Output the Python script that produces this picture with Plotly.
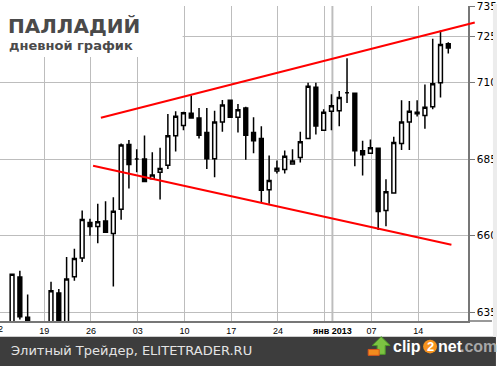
import plotly.graph_objects as go
import pandas as pd

# ---------------- data ----------------
dates = ["2012-11-14", "2012-11-15", "2012-11-16", "2012-11-20", "2012-11-21", "2012-11-22",
         "2012-11-23", "2012-11-24", "2012-11-26", "2012-11-27", "2012-11-28", "2012-11-29",
         "2012-11-30", "2012-12-01", "2012-12-03", "2012-12-04", "2012-12-05", "2012-12-06",
         "2012-12-07", "2012-12-08", "2012-12-10", "2012-12-11", "2012-12-12", "2012-12-13",
         "2012-12-14", "2012-12-15", "2012-12-17", "2012-12-18", "2012-12-19", "2012-12-20",
         "2012-12-21", "2012-12-22", "2012-12-24", "2012-12-25", "2012-12-26", "2012-12-27",
         "2012-12-28", "2012-12-29", "2012-12-31", "2013-01-01", "2013-01-02", "2013-01-03",
         "2013-01-04", "2013-01-05", "2013-01-07", "2013-01-08", "2013-01-09", "2013-01-10",
         "2013-01-11", "2013-01-12", "2013-01-14", "2013-01-15", "2013-01-16", "2013-01-17",
         "2013-01-18"]
open_ = [628.0, 646.5, 633.3, 629.0, 641.3, 630.0, 646.6, 652.7, 664.3, 663.0, 664.8, 660.7,
         668.6, 689.8, 685.0, 685.0, 678.6, 680.7, 683.0, 692.6, 696.0, 700.0, 698.4, 693.7,
         685.1, 697.1, 704.2, 698.7, 701.7, 693.7, 691.7, 675.0, 681.1, 681.6, 683.4, 685.5,
         691.7, 708.5, 694.4, 700.6, 700.8, 706.7, 706.5, 687.7, 686.9, 688.5, 668.2, 673.9,
         690.1, 697.1, 700.3, 699.2, 702.1, 709.9, 722.7]
high = [647.6, 648.5, 640.8, 644.9, 642.6, 653.0, 655.7, 668.2, 665.5, 670.4, 671.2, 672.5,
        690.1, 691.2, 688.2, 692.7, 687.2, 688.7, 699.7, 700.6, 700.5, 705.8, 701.7, 701.7,
        700.8, 704.3, 704.4, 703.0, 702.1, 698.7, 695.7, 686.2, 684.5, 687.8, 688.2, 693.9,
        709.9, 709.9, 701.3, 706.2, 707.2, 717.9, 706.7, 691.0, 691.4, 688.7, 678.4, 692.3,
        704.2, 704.0, 704.2, 709.4, 724.3, 727.0, 723.2]
low = [626.0, 632.6, 630.5, 628.0, 629.0, 629.0, 645.3, 651.4, 660.0, 657.5, 661.0, 643.4,
       665.2, 675.4, 680.7, 677.5, 678.4, 671.8, 681.8, 687.5, 694.4, 698.2, 691.7, 681.8,
       679.1, 693.9, 698.5, 693.7, 684.8, 686.9, 670.9, 670.4, 680.3, 680.3, 683.2, 683.9,
       691.5, 693.0, 694.2, 694.4, 695.7, 703.3, 682.7, 679.6, 686.7, 661.8, 663.1, 673.7,
       688.0, 688.0, 698.9, 694.9, 701.3, 705.1, 719.5]
close = [647.4, 633.5, 631.5, 642.0, 630.0, 645.8, 652.5, 665.3, 663.0, 664.5, 661.1, 668.0,
         689.6, 683.2, 685.0, 677.7, 679.8, 681.9, 692.6, 699.0, 700.1, 698.4, 692.8, 685.1,
         697.1, 702.7, 698.7, 701.1, 692.8, 691.0, 674.8, 678.0, 682.0, 685.9, 684.4, 690.7,
         708.8, 695.8, 700.3, 702.4, 705.1, 706.7, 687.7, 686.4, 688.7, 667.9, 674.3, 690.4,
         697.1, 700.6, 699.8, 701.9, 709.6, 722.4, 721.3]

# week marks (session dates) and their labels
tick_dates = ["2012-11-19", "2012-11-26", "2012-12-03", "2012-12-10", "2012-12-17",
              "2012-12-24", "2012-12-31", "2013-01-01", "2013-01-07", "2013-01-14"]
tick_text = ["19", "26", "03", "10", "17", "24", "",
             "<b><span style='font-size:9px'>янв</span> 2013</b>", "07", "14"]
y_ticks = [635, 660, 685, 710, 725, 735]

# channel lines (session date, price)
upper_line = [("2012-11-27", 698.5), ("2013-01-22", 729.6)]
lower_line = [("2012-11-26", 682.8), ("2013-01-18", 657.0)]

# ---------------- session index (Mon..Sat sessions) ----------------
cal = pd.bdate_range("2012-11-12", "2013-01-31", freq="C", weekmask="Mon Tue Wed Thu Fri Sat")
pos = {d.strftime("%Y-%m-%d"): i for i, d in enumerate(cal)}
x = [pos[d] for d in dates]
GRID_SHIFT = 0.13
tickvals = [pos[d] + GRID_SHIFT for d in tick_dates]

W, H = 497, 366
L, R, T, B = 0, 28, 0, 45
PW, PH = W - L - R, H - T - B
XR = [0.45, 60.53]
YR = [735 - 321 / 3.12, 735]


def px(xp):
    return (xp - L) / PW


def py(yp):
    return (PH - (yp - T)) / PH


def dx(v):  # data x -> paper
    return (v - XR[0]) / (XR[1] - XR[0])


def dy(v):  # data y -> paper
    return (v - YR[0]) / (YR[1] - YR[0])


fig = go.Figure()
fig.add_trace(go.Candlestick(
    x=x, open=open_, high=high, low=low, close=close,
    increasing=dict(fillcolor="white", line=dict(color="black", width=1.5)),
    decreasing=dict(fillcolor="black", line=dict(color="black", width=1.5)),
    whiskerwidth=0, showlegend=False, hoverinfo="skip",
))

shapes = []
# title box covering the grid
shapes.append(dict(type="rect", xref="paper", yref="paper", x0=px(0), x1=px(183), y0=py(52), y1=py(-2),
                   fillcolor="white", line=dict(width=0), layer="above"))
# channel lines (drawn in paper space so they may run past the axis, as in the original)
for ln in (upper_line, lower_line):
    (d0, p0), (d1, p1) = ln
    shapes.append(dict(type="line", xref="paper", yref="paper",
                       x0=dx(pos[d0] + 0.4), y0=dy(p0), x1=dx(pos[d1] + 0.4), y1=dy(p1),
                       line=dict(color="#ff0000", width=2), layer="above"))
# month separator
shapes.append(dict(type="line", xref="x", yref="paper", x0=pos["2013-01-01"] + GRID_SHIFT,
                   x1=pos["2013-01-01"] + GRID_SHIFT, y0=0, y1=1,
                   line=dict(color="#808080", width=1.5), layer="below"))
# footer band
shapes.append(dict(type="rect", xref="paper", yref="paper", x0=px(0), x1=px(W), y0=py(H + 2), y1=py(337),
                   fillcolor="#3d3d3d", line=dict(width=0)))
# right strip
shapes.append(dict(type="rect", xref="paper", yref="paper", x0=px(494), x1=px(W + 2), y0=py(337), y1=py(-2),
                   fillcolor="#ececec", line=dict(width=0)))
# bottom axis extension
shapes.append(dict(type="line", xref="paper", yref="paper", x0=px(469), x1=px(493), y0=0, y1=0,
                   line=dict(color="#777777", width=1.5)))
# clip2net logo pieces
shapes.append(dict(type="path", xref="paper", yref="paper",
                   path="M {} {} L {} {} L {} {} L {} {} L {} {} L {} {} L {} {} Z".format(
                       px(382), py(337), px(373), py(346), px(378), py(346), px(378), py(355),
                       px(386), py(355), px(386), py(346), px(391), py(346)),
                   fillcolor="#7cc242", line=dict(color="#4f9a2a", width=1)))
shapes.append(dict(type="rect", xref="paper", yref="paper", x0=px(369), x1=px(380), y0=py(356), y1=py(350),
                   fillcolor="#f28c1e", line=dict(color="#d9541e", width=1)))
shapes.append(dict(type="circle", xref="paper", yref="paper", x0=px(424), x1=px(438), y0=py(354), y1=py(340),
                   fillcolor="#f7931e", line=dict(width=0)))

ann = []
ann.append(dict(text="<b>ПАЛЛАДИЙ</b>", xref="paper", yref="paper", x=px(6), y=py(20), xanchor="left",
                yanchor="middle", showarrow=False, font=dict(family="DejaVu Sans", size=20, color="#4a4a4a")))
ann.append(dict(text="<b>дневной график</b>", xref="paper", yref="paper", x=px(7), y=py(40), xanchor="left",
                yanchor="middle", showarrow=False, font=dict(family="DejaVu Sans", size=13, color="#4a4a4a")))
ann.append(dict(text="Элитный Трейдер, ELITETRADER.RU", xref="paper", yref="paper", x=px(9), y=py(351),
                xanchor="left", yanchor="middle", showarrow=False,
                font=dict(family="DejaVu Sans", size=13, color="#e4e4e4")))
ann.append(dict(text="<b>clip</b>", xref="paper", yref="paper", x=px(424), y=py(347), xanchor="right",
                yanchor="middle", showarrow=False, font=dict(family="Liberation Sans", size=16, color="white")))
ann.append(dict(text="<b>2</b>", xref="paper", yref="paper", x=px(431), y=py(347), xanchor="center",
                yanchor="middle", showarrow=False, font=dict(family="Liberation Sans", size=13, color="white")))
ann.append(dict(text="<b>net</b>", xref="paper", yref="paper", x=px(437), y=py(347), xanchor="left",
                yanchor="middle", showarrow=False, font=dict(family="Liberation Sans", size=16, color="white")))
ann.append(dict(text="<b>.com</b>", xref="paper", yref="paper", x=px(459), y=py(347), xanchor="left",
                yanchor="middle", showarrow=False, font=dict(family="Liberation Sans", size=16, color="#a8a8a8")))
ann.append(dict(text="12", xref="paper", yref="paper", x=px(-2.5), y=py(329), xanchor="center",
                yanchor="middle", showarrow=False, font=dict(family="Liberation Sans", size=9, color="black")))

fig.update_layout(
    width=W, height=H, margin=dict(l=L, r=R, t=T, b=B),
    paper_bgcolor="white", plot_bgcolor="white",
    shapes=shapes, annotations=ann, showlegend=False,
    xaxis=dict(range=XR, tickmode="array", tickvals=tickvals, ticktext=tick_text,
               showgrid=True, gridcolor="#bdbdbd", gridwidth=1, zeroline=False,
               showline=True, linecolor="#777777", linewidth=1.5, ticks="",
               tickfont=dict(family="Liberation Sans", size=9, color="black"),
               rangeslider=dict(visible=False), fixedrange=True),
    yaxis=dict(range=YR, side="right", tickmode="array", tickvals=y_ticks,
               showgrid=True, gridcolor="#bdbdbd", gridwidth=1, zeroline=False,
               showline=True, linecolor="#777777", linewidth=1.5,
               ticks="outside", ticklen=5, tickcolor="#777777", ticklabeloverflow="allow",
               tickfont=dict(family="DejaVu Sans", size=10.5, color="black"), fixedrange=True),
)

fig.write_html("out.html")
